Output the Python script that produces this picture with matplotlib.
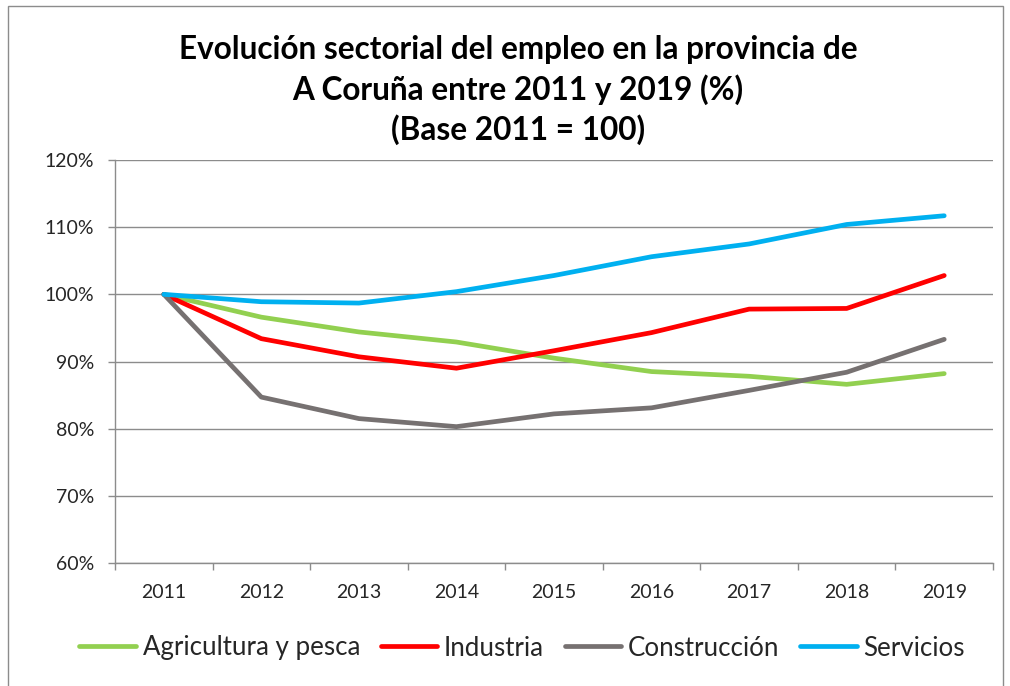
import matplotlib
matplotlib.use("Agg")
import matplotlib.pyplot as plt
from matplotlib.ticker import FixedLocator, FuncFormatter
from matplotlib.patches import Rectangle

years = ["2011", "2012", "2013", "2014", "2015", "2016", "2017", "2018", "2019"]
agricultura = [100.0, 96.6, 94.4, 92.9, 90.5, 88.5, 87.8, 86.6, 88.2]
industria = [100.0, 93.4, 90.7, 89.0, 91.6, 94.3, 97.8, 97.9, 102.8]
construccion = [100.0, 84.7, 81.5, 80.3, 82.2, 83.1, 85.7, 88.4, 93.3]
servicios = [100.0, 98.9, 98.7, 100.4, 102.8, 105.6, 107.5, 110.4, 111.7]

series_names = ["Agricultura y pesca", "Industria", "Construcción", "Servicios"]
series_colors = ["#92D050", "#FF0000", "#767171", "#00B0F0"]
title_lines = ["Evolución sectorial del empleo en la provincia de",
               "A Coruña entre 2011 y 2019 (%)",
               "(Base 2011 = 100)"]

plt.rcParams['font.family'] = ['Lato', 'DejaVu Sans']

W, H = 1010, 686
fig = plt.figure(figsize=(W / 100, H / 100), dpi=100)
ax = fig.add_axes([115 / W, 1 - 563 / H, (993 - 115) / W, (563 - 160) / H])

x = list(range(len(years)))
for vals, name, col in zip([agricultura, industria, construccion, servicios],
                           series_names, series_colors):
    ax.plot(x, vals, color=col, lw=3.4, label=name, solid_capstyle='round',
            solid_joinstyle='round', zorder=3)

ax.set_xlim(-0.5, len(years) - 0.5)
ax.set_ylim(60, 120)
ax.set_yticks(range(60, 121, 10))
ax.yaxis.set_major_formatter(FuncFormatter(lambda v, p: f"{int(v)}%"))
ax.grid(axis='y', color='#8C8C8C', lw=1.0, zorder=0)
ax.set_axisbelow(True)

ax.set_xticks(x)
ax.set_xticklabels(years)
ax.xaxis.set_minor_locator(FixedLocator([i - 0.5 for i in range(len(years) + 1)]))
ax.tick_params(axis='x', which='major', length=0, pad=15, labelsize=14, colors='#262626')
ax.tick_params(axis='x', which='minor', length=5, width=1, color='#8C8C8C', direction='out')
ax.tick_params(axis='y', length=5, width=1, color='#8C8C8C', pad=10, labelsize=14,
               labelcolor='#262626')

for s in ['top', 'right']:
    ax.spines[s].set_visible(False)
for s in ['left', 'bottom']:
    ax.spines[s].set_color('#8C8C8C')
    ax.spines[s].set_linewidth(1)

ys = [50, 90, 130]
for line, yy in zip(title_lines, ys):
    fig.text(518 / W, 1 - yy / H, line, ha='center', va='center', fontsize=22.7,
             fontweight='bold', color='black')

fig.legend(loc='center', bbox_to_anchor=(522 / W, 1 - 648 / H), ncol=4, frameon=False,
           fontsize=18.6, handlelength=2.2, handletextpad=0.25, columnspacing=0.8,
           labelcolor='#262626')

fig.patches.append(Rectangle((8 / W, -0.01), (1003 - 8) / W, 1 - 6 / H + 0.01,
                             transform=fig.transFigure, fill=False,
                             edgecolor='#8C8C8C', lw=1))

fig.savefig("out.png", dpi=100)
